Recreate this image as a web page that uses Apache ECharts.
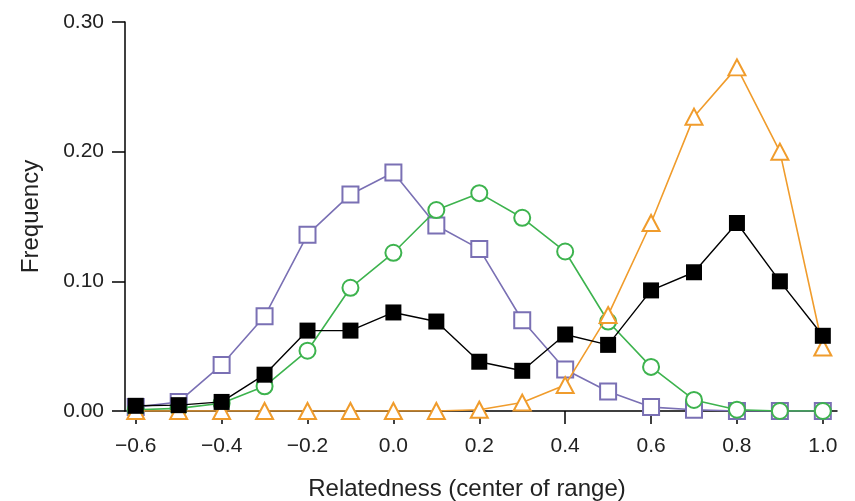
<!DOCTYPE html>
<html>
<head>
<meta charset="utf-8">
<script src="https://cdn.jsdelivr.net/npm/echarts@6/dist/echarts.min.js"></script>
<style>
html,body{margin:0;padding:0;background:#fff;}
#chart{width:855px;height:501px;}
</style>
</head>
<body>
<div id="chart"></div>
<script>
var xValues = [-0.6,-0.5,-0.4,-0.3,-0.2,-0.1,0.0,0.1,0.2,0.3,0.4,0.5,0.6,0.7,0.8,0.9,1.0];
var purpleSquares = [0.003,0.007,0.0355,0.073,0.136,0.167,0.184,0.143,0.125,0.070,0.032,0.015,0.003,0.001,0,0,0];
var greenCircles  = [0.001,0.002,0.006,0.019,0.0465,0.095,0.122,0.155,0.168,0.149,0.123,0.069,0.034,0.0085,0.001,0,0];
var orangeTriangles = [0,0,0,0,0,0,0,0,0.001,0.0065,0.020,0.074,0.145,0.227,0.265,0.200,0.049];
var blackSquares = [0.004,0.0045,0.007,0.028,0.062,0.062,0.076,0.069,0.038,0.031,0.059,0.051,0.093,0.107,0.145,0.100,0.058];
var xTickLabels = [-0.6,-0.4,-0.2,0.0,0.2,0.4,0.6,0.8,1.0];
var yTickLabels = [0.00,0.10,0.20,0.30];

function pairs(arr){ return xValues.map(function(x,i){ return [x, arr[i]]; }); }

var FONT = 'Liberation Sans, Arial, Helvetica, sans-serif';
var chart = echarts.init(document.getElementById('chart'), null, {renderer:'canvas'});
chart.setOption({
  animation:false,
  backgroundColor:'#fff',
  grid:{left:125,right:18,top:22,bottom:90,containLabel:false,outerBoundsMode:'none'},
  xAxis:{
    type:'value', min:-0.625, max:1.033,
    name:'Relatedness (center of range)', nameLocation:'middle', nameGap:66,
    nameTextStyle:{fontFamily:FONT,fontSize:24,color:'#222',padding:[0,28,0,0]},
    axisLine:{show:true,onZero:false,lineStyle:{color:'#000',width:1.5}},
    axisTick:{show:true,length:13,inside:false,customValues:xTickLabels,lineStyle:{color:'#000',width:1.5}},
    axisLabel:{show:true,margin:25,customValues:xTickLabels,fontFamily:FONT,fontSize:21,color:'#222',
      formatter:function(v){ var s=Number(v).toFixed(1); return s.replace('-','\u2212'); }},
    splitLine:{show:false}
  },
  yAxis:{
    type:'value', min:0, max:0.3, interval:0.1,
    name:'Frequency', nameLocation:'middle', nameGap:82, nameRotate:90,
    nameTextStyle:{fontFamily:FONT,fontSize:24,color:'#222'},
    axisLine:{show:true,onZero:false,lineStyle:{color:'#000',width:1.5}},
    axisTick:{show:true,length:13,customValues:yTickLabels,lineStyle:{color:'#000',width:1.5}},
    axisLabel:{show:true,margin:21,customValues:yTickLabels,fontFamily:FONT,fontSize:21,color:'#222',
      formatter:function(v){ return Number(v).toFixed(2); }},
    splitLine:{show:false}
  },
  series:[
    {type:'line',name:'purple',data:pairs(purpleSquares),symbol:'emptyRect',symbolSize:16,
      lineStyle:{color:'#7a70b4',width:1.6},itemStyle:{color:'#7a70b4',borderWidth:1.8},z:2},
    {type:'line',name:'green',data:pairs(greenCircles),symbol:'emptyCircle',symbolSize:16,
      lineStyle:{color:'#3db34e',width:1.6},itemStyle:{color:'#3db34e',borderWidth:1.8},z:3},
    {type:'line',name:'orange',data:pairs(orangeTriangles),symbol:'emptyTriangle',symbolSize:[17,16],
      lineStyle:{color:'#f09c2c',width:1.6},itemStyle:{color:'#f09c2c',borderWidth:1.8},z:4},
    {type:'line',name:'black',data:pairs(blackSquares),symbol:'rect',symbolSize:16,
      lineStyle:{color:'#000',width:1.4},itemStyle:{color:'#000'},z:5}
  ]
});
</script>
</body>
</html>
